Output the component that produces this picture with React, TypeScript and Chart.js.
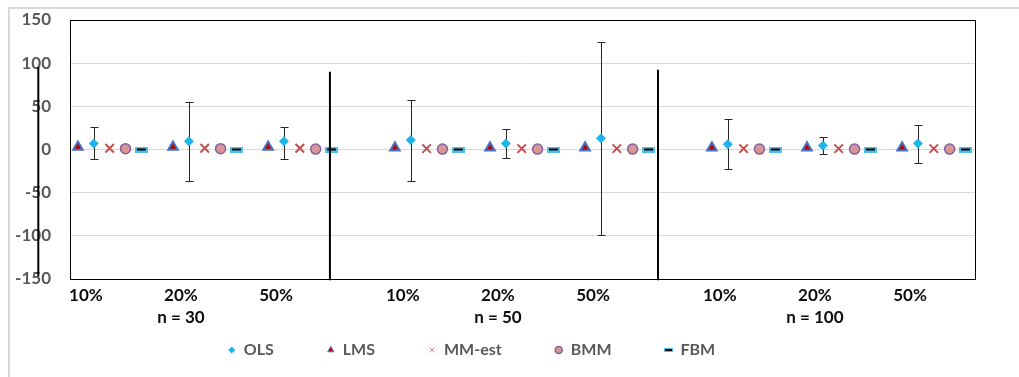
import React, { useEffect, useRef } from "react";
import { Chart, registerables } from "chart.js";

Chart.register(...registerables);

// ---- data ----
const categories = ["10%", "20%", "50%", "10%", "20%", "50%", "10%", "20%", "50%"];
const groupLabels = ["n = 30", "n = 50", "n = 100"];
const categoryX = [0, 6, 12, 20, 26, 32, 40, 46, 52];
const olsValues = [7, 9.5, 9.5, 11, 7, 13, 6, 4.5, 7];
const olsLow = [-11.5, -36.5, -10.5, -36, -10, -99.5, -22.5, -5.5, -16];
const olsHigh = [25.5, 54.5, 26.5, 57, 24, 124.5, 35, 14, 28.5];
const lmsValues = [3, 3, 3, 2, 2, 2, 2, 2, 2];
const mmValues = [1.5, 1.5, 1.5, 1, 1, 1, 1, 1, 1];
const bmmValues = [1, 1, 0.5, 0.5, 0.5, 0.5, 0.5, 0.5, 0.5];
const fbmValues = [0, 0, 0, 0, 0, 0, 0, 0, 0];
const dividerX = [-2.5, 15.9, 36.6];
const dividerTop = [95.5, 90, 92.5];
const dividerBottom = [-147, -151.5, -151.5];
const yTicks = [-150, -100, -50, 0, 50, 100, 150];

const seriesOffset = { LMS: 0, OLS: 1, MM: 2, BMM: 3, FBM: 4 };
const labelOffset = 0.5;

const FONT = "Lato";

function makeDash(w: number, h: number, lw: number, lh: number) {
  const c = document.createElement("canvas");
  c.width = w;
  c.height = h;
  const g = c.getContext("2d")!;
  g.fillStyle = "#4FC1E9";
  g.fillRect(0, 0, w, h);
  g.fillStyle = "#000000";
  g.fillRect((w - lw) / 2, (h - lh) / 2, lw, lh);
  return c;
}

const pts = (vals: number[], off: number) =>
  vals.map((v, i) => ({ x: categoryX[i] + off, y: v }));

const errorBars = {
  id: "errorBars",
  beforeDatasetsDraw(chart: any) {
    const { ctx, scales, chartArea } = chart;
    const xs = scales.x;
    const ys = scales.y;
    ctx.save();
    // plot border
    ctx.strokeStyle = "#000000";
    ctx.lineWidth = 1;
    ctx.strokeRect(
      Math.round(chartArea.left) + 0.5,
      Math.round(chartArea.top) + 0.5,
      Math.round(chartArea.right - chartArea.left),
      Math.round(chartArea.bottom - chartArea.top)
    );
    // error bars on OLS
    ctx.strokeStyle = "#262626";
    ctx.lineWidth = 1;
    olsValues.forEach((_, i) => {
      const x = Math.round(xs.getPixelForValue(categoryX[i] + seriesOffset.OLS)) + 0.5;
      const yt = Math.round(ys.getPixelForValue(olsHigh[i])) + 0.5;
      const yb = Math.round(ys.getPixelForValue(olsLow[i])) + 0.5;
      ctx.beginPath();
      ctx.moveTo(x, yt);
      ctx.lineTo(x, yb);
      ctx.moveTo(x - 4, yt);
      ctx.lineTo(x + 4, yt);
      ctx.moveTo(x - 4, yb);
      ctx.lineTo(x + 4, yb);
      ctx.stroke();
    });
    ctx.restore();
  },
};

const shiftLegend = {
  id: "shiftLegend",
  afterLayout(chart: any) {
    const l = chart.legend;
    if (l) {
      l.left -= 21;
      l.right -= 21;
      l.top -= 42;
    }
  },
};

export default function App() {
  const ref = useRef<HTMLCanvasElement>(null);

  useEffect(() => {
    if (!ref.current) return;
    const dashBig = makeDash(13, 6, 9, 2);
    const dashSmall = makeDash(9, 4, 7, 2);
    const tickX = categoryX.map((x) => x + labelOffset);

    const dividerSets = dividerX.map((x, i) => ({
      label: "divider" + i,
      data: [
        { x, y: dividerTop[i] },
        { x, y: dividerBottom[i] },
      ],
      showLine: true,
      borderColor: "#000000",
      borderWidth: 2,
      pointRadius: 0,
      clip: false as any,
    }));

    const chart = new Chart(ref.current, {
      type: "scatter",
      data: {
        datasets: [
          ...dividerSets,
          {
            label: "OLS",
            data: pts(olsValues, seriesOffset.OLS),
            pointStyle: "rectRot",
            pointRadius: 5,
            backgroundColor: "#1EB4EE",
            borderColor: "#1EB4EE",
            borderWidth: 0,
          },
          {
            label: "LMS",
            data: pts(lmsValues, seriesOffset.LMS),
            pointStyle: "triangle",
            pointRadius: 5.5,
            backgroundColor: "#C00000",
            borderColor: "#4472C4",
            borderWidth: 2,
          },
          {
            label: "MM-est",
            data: pts(mmValues, seriesOffset.MM),
            pointStyle: "crossRot",
            pointRadius: 6,
            backgroundColor: "#C0504D",
            borderColor: "#C0504D",
            borderWidth: 2,
          },
          {
            label: "BMM",
            data: pts(bmmValues, seriesOffset.BMM),
            pointStyle: "circle",
            pointRadius: 5,
            backgroundColor: "#D99694",
            borderColor: "#8064A2",
            borderWidth: 1.5,
          },
          {
            label: "FBM",
            data: pts(fbmValues, seriesOffset.FBM),
            pointStyle: dashBig as any,
            pointRadius: 6,
            backgroundColor: "#4FC1E9",
            borderColor: "#000000",
            borderWidth: 0,
          },
        ],
      },
      options: {
        animation: false,
        responsive: true,
        maintainAspectRatio: false,
        events: [],
        layout: { padding: { top: 11, right: 44, left: 0, bottom: 0 } },
        scales: {
          x: {
            type: "linear",
            min: -0.5,
            max: 56.6,
            afterBuildTicks: (s: any) => {
              s.ticks = tickX.map((v) => ({ value: v }));
            },
            afterFit: (s: any) => {
              s.height = 52;
              s.paddingLeft = 0;
              s.paddingRight = 0;
            },
            grid: { display: false, drawTicks: false },
            border: { display: false },
            ticks: {
              autoSkip: false,
              maxRotation: 0,
              minRotation: 0,
              padding: 5,
              color: "#0D0D0D",
              font: { family: FONT, size: 17, weight: "bold", lineHeight: 1.33 },
              callback: (_v: any, i: number) =>
                i % 3 === 1 ? [categories[i], groupLabels[Math.floor(i / 3)]] : categories[i],
            },
          },
          y: {
            min: -150,
            max: 150,
            afterBuildTicks: (s: any) => {
              s.ticks = yTicks.map((v) => ({ value: v }));
            },
            afterFit: (s: any) => {
              s.width = 60;
              s.paddingTop = 0;
              s.paddingBottom = 0;
            },
            grid: { color: "#D9D9D9", drawTicks: false, lineWidth: 1 },
            border: { display: false },
            ticks: {
              padding: 19,
              color: "#595959",
              font: { family: FONT, size: 17, weight: "bold" },
            },
          },
        },
        plugins: {
          legend: {
            position: "bottom",
            maxHeight: 46,
            labels: {
              usePointStyle: true,
              boxWidth: 8,
              boxHeight: 5,
              padding: 53,
              color: "#595959",
              font: { family: FONT, size: 16, weight: "bold" },
              filter: (item: any) => item.datasetIndex >= dividerX.length,
              generateLabels: (c: any) => {
                const items = Chart.defaults.plugins.legend.labels.generateLabels(c);
                return items.map((it: any) => {
                  if (it.text === "FBM") return { ...it, pointStyle: dashSmall };
                  if (it.text === "LMS") return { ...it, lineWidth: 1 };
                  if (it.text === "MM-est")
                    return { ...it, lineWidth: 1, strokeStyle: "#E0908E" };
                  return it;
                });
              },
            },
          } as any,
          tooltip: { enabled: false },
        },
      },
      plugins: [errorBars, shiftLegend],
    });
    return () => chart.destroy();
  }, []);

  return (
    <div
      style={{
        position: "fixed",
        left: 8,
        top: 7,
        right: 0,
        bottom: 0,
        borderLeft: "2px solid #D9D9D9",
        borderTop: "2px solid #D9D9D9",
        boxSizing: "border-box",
        background: "#FFFFFF",
      }}
    >
      <div style={{ position: "relative", width: "100%", height: "100%" }}>
        <canvas ref={ref} />
      </div>
    </div>
  );
}
